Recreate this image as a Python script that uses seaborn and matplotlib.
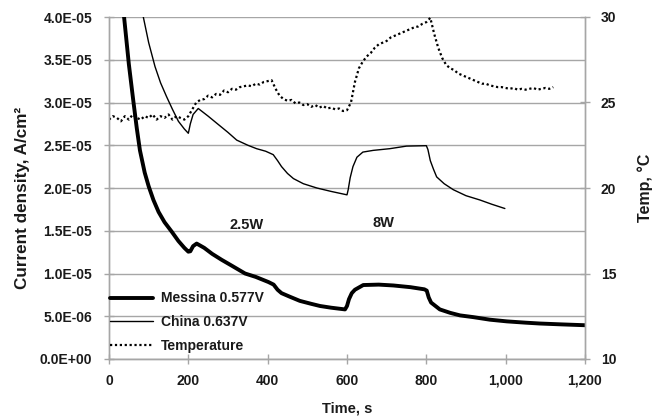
import numpy as np
import pandas as pd
import matplotlib
matplotlib.use("Agg")
import matplotlib.pyplot as plt
import seaborn as sns
from matplotlib.ticker import FuncFormatter, MultipleLocator

# ---------------- data ----------------
messina_t = [30, 38, 50, 61, 70, 78, 90, 100, 112, 125, 140, 158, 175, 190, 200, 205, 212, 221,
             240, 260, 284, 310, 343, 370, 402, 415, 425, 435, 455, 481, 510, 532, 560, 595,
             600, 605, 612, 620, 641, 680, 717, 760, 795, 801, 806, 812, 834, 860, 885, 918,
             960, 1003, 1050, 1086, 1140, 1200]
messina_i = [46, 40, 34.5, 30.3, 27, 24.4, 21.8, 20.2, 18.6, 17.2, 16.0, 14.9, 13.8, 13.0, 12.55,
             12.6, 13.2, 13.5, 13.0, 12.3, 11.6, 10.9, 10.0, 9.6, 9.0, 8.7, 8.1, 7.7, 7.3, 6.8,
             6.45, 6.2, 6.0, 5.8, 6.2, 7.0, 7.7, 8.1, 8.65, 8.7, 8.6, 8.4, 8.15, 8.0, 7.2, 6.6,
             5.8, 5.4, 5.1, 4.9, 4.6, 4.4, 4.25, 4.15, 4.05, 3.95]  # x 1e-6 A/cm2

china_t = [80, 86.5, 100, 116, 130, 145, 160, 175, 190, 200, 205, 212, 225, 250, 271, 300, 322,
           350, 372, 395, 414, 425, 435, 450, 465, 490, 524, 560, 600, 603, 608, 615, 625, 640,
           666, 708, 750, 800, 804, 810, 818, 826, 845, 868, 900, 935, 965, 998]
china_i = [42, 40, 37, 34.2, 32.3, 30.7, 29.2, 27.8, 26.9, 26.4, 27.5, 28.6, 29.3, 28.4, 27.6,
           26.5, 25.6, 25.0, 24.6, 24.3, 23.9, 23.2, 22.5, 21.7, 21.1, 20.5, 20.0, 19.6, 19.2,
           19.8, 21.2, 22.5, 23.6, 24.2, 24.4, 24.6, 24.9, 24.95, 24.5, 23.2, 22.2, 21.3, 20.5,
           19.8, 19.1, 18.6, 18.1, 17.6]  # x 1e-6 A/cm2

temp_t = list(range(0, 1130, 10))
temp_c = [24.0, 24.2, 24.1, 23.9, 24.2, 24.0, 24.3, 24.1, 24.0, 24.2,
          24.1, 24.3, 24.0, 24.2, 24.1, 24.3, 24.0, 24.2, 24.1, 24.0,
          24.2, 24.6, 25.0, 25.15, 25.2, 25.4, 25.3, 25.5, 25.45, 25.7, 25.6,
          25.8, 25.75, 25.9, 25.95, 26.0, 25.95, 26.1, 26.05, 26.2, 26.25, 26.3,
          25.8, 25.4, 25.2, 25.1, 25.15, 24.95, 25.0, 24.85, 24.9, 24.75,
          24.85, 24.7, 24.8, 24.65, 24.7, 24.6, 24.65, 24.5, 24.55,
          25.0, 26.2, 27.0, 27.4, 27.7, 27.9, 28.2, 28.4, 28.5, 28.6,
          28.8, 28.9, 29.0, 29.1, 29.2, 29.3, 29.4, 29.45, 29.6, 29.7, 29.95,
          29.0, 28.2, 27.6, 27.2, 27.0, 26.9, 26.7, 26.6, 26.5, 26.4,
          26.3, 26.2, 26.1, 26.1, 26.0, 25.95, 25.9, 25.9, 25.85, 25.8,
          25.85, 25.75, 25.8, 25.75, 25.8, 25.85, 25.75, 25.8, 25.85, 25.8, 25.9]

labels = ["Messina 0.577V", "China 0.637V", "Temperature"]
annotations = [("2.5W", 347, 15.7), ("8W", 691, 15.9)]

# ---------------- plot ----------------
sns.set_theme(style="white")
plt.rcParams['font.family'] = ['Liberation Sans', 'DejaVu Sans']
W = "bold"
TC = "#1a1a1a"

fig = plt.figure(figsize=(6.56, 4.16), dpi=100)
ax = fig.add_axes([109 / 656, 57 / 416, 476 / 656, 342 / 416])
ax2 = ax.twinx()

df_m = pd.DataFrame({"t": messina_t, "i": np.array(messina_i) * 1e-6})
df_c = pd.DataFrame({"t": china_t, "i": np.array(china_i) * 1e-6})
df_T = pd.DataFrame({"t": temp_t, "T": temp_c})

sns.lineplot(data=df_m, x="t", y="i", ax=ax, color="black", lw=2.8, label=labels[0], legend=False)
sns.lineplot(data=df_c, x="t", y="i", ax=ax, color="black", lw=1.0, label=labels[1], legend=False)
sns.lineplot(data=df_T, x="t", y="T", ax=ax2, color="black", lw=1.6,
             linestyle=(0, (1, 1.2)), label=labels[2], legend=False)

ax.set_xlim(0, 1200)
ax.set_ylim(0, 4e-5)
ax2.set_ylim(10, 30)

ax.xaxis.set_major_locator(MultipleLocator(200))
ax.yaxis.set_major_locator(MultipleLocator(5e-6))
ax2.yaxis.set_major_locator(MultipleLocator(5))
ax.xaxis.set_major_formatter(FuncFormatter(lambda v, p: f"{int(v):,}"))
ax.yaxis.set_major_formatter(FuncFormatter(lambda v, p: f"{v:.1E}"))

grid_c = "#a6a6a6"
ax.grid(axis="y", color=grid_c, lw=1.0)
ax.grid(axis="x", visible=False)
ax2.grid(False)
for a in (ax, ax2):
    for s in a.spines.values():
        s.set_visible(False)
    for s in ("left", "right", "bottom"):
        a.spines[s].set_visible(True)
        a.spines[s].set_color(grid_c)
        a.spines[s].set_linewidth(1.0)

ax.tick_params(axis="y", which="major", direction="inout", length=7, width=1,
               color=grid_c, labelsize=10, labelcolor=TC, left=True, pad=8.5)
ax.tick_params(axis="x", which="major", direction="inout", length=7, width=1,
               color=grid_c, labelsize=10, labelcolor=TC, bottom=True, pad=7)
ax2.tick_params(axis="y", direction="inout", length=7, width=1, color=grid_c,
                labelsize=10, labelcolor=TC, right=True, pad=8)
for lab in ax.get_xticklabels() + ax.get_yticklabels() + ax2.get_yticklabels():
    lab.set_fontweight(W)

ax.set_xlabel("Time, s", fontsize=10.5, fontweight=W, color=TC, labelpad=10)
ax.set_ylabel("Current density, A/cm²", fontsize=12.3, fontweight=W, color=TC)
ax.yaxis.set_label_coords(-0.165, 0.47)
ax2.set_ylabel("Temp, °C", fontsize=11.5, fontweight=W, color=TC)
ax2.yaxis.set_label_coords(1.11, 0.5)

for txt, tx, ty in annotations:
    ax.text(tx, ty * 1e-6, txt, ha="center", va="center", fontsize=10.5, fontweight=W, color=TC)

h1, l1 = ax.get_legend_handles_labels()
h2, l2 = ax2.get_legend_handles_labels()
leg = ax2.legend(h1 + h2, l1 + l2, loc="lower left", bbox_to_anchor=(0.002, 0.018),
                 frameon=False, fontsize=10, handlelength=3.1, handletextpad=0.6,
                 labelspacing=0.7, borderpad=0, borderaxespad=0)
for t in leg.get_texts():
    t.set_fontweight(W)
    t.set_color(TC)

fig.savefig("out.png", dpi=100)
